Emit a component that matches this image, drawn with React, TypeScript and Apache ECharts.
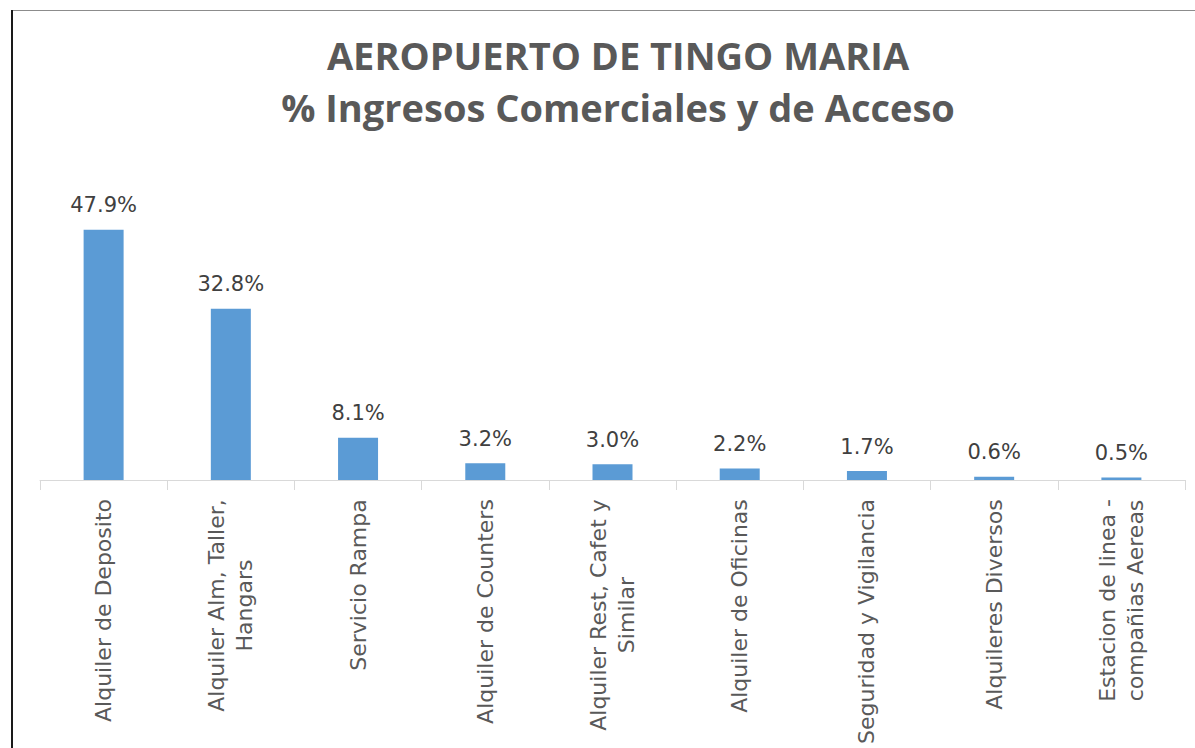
import React, { useEffect, useRef } from "react";
import * as echarts from "echarts";

const titleLines = ["AEROPUERTO DE TINGO MARIA", "% Ingresos Comerciales y de Acceso"];
const categories = [
  "Alquiler de Deposito",
  "Alquiler Alm, Taller,\nHangars",
  "Servicio Rampa",
  "Alquiler de Counters",
  "Alquiler Rest, Cafet y\nSimilar",
  "Alquiler de Oficinas",
  "Seguridad y Vigilancia",
  "Alquileres Diversos",
  "Estacion de linea -\ncompañias Aereas",
];
const values = [47.9, 32.8, 8.1, 3.2, 3.0, 2.2, 1.7, 0.6, 0.5];

const LABEL_FONT = "DejaVu Sans";
const LABEL_SIZE = 22;

function measure(text: string, size: number, family: string): number {
  const c = document.createElement("canvas").getContext("2d");
  if (!c) return text.length * size * 0.55;
  c.font = `${size}px '${family}'`;
  return c.measureText(text).width;
}

export default function App() {
  const ref = useRef<HTMLDivElement>(null);
  useEffect(() => {
    if (!ref.current) return;
    const chart = echarts.init(ref.current, undefined, { renderer: "svg" });
    const rich: Record<string, any> = {};
    categories.forEach((c, i) => {
      const w = Math.max(...c.split("\n").map((l) => measure(l, LABEL_SIZE, LABEL_FONT)));
      rich["r" + i] = {
        width: Math.ceil(w) + 2,
        align: "center",
        fontFamily: LABEL_FONT,
        fontSize: LABEL_SIZE,
        color: "#595959",
        lineHeight: 28,
      };
    });
    const axisY = 481;
    const pxPerUnit = 5.24;
    const yMax = 60;
    chart.setOption({
      animation: false,
      backgroundColor: "#ffffff",
      title: {
        text: titleLines.join("\n"),
        left: 613,
        top: 24,
        textAlign: "center",
        textStyle: {
          fontFamily: "Open Sans",
          fontWeight: "bold",
          fontSize: 38,
          lineHeight: 52,
          color: "#595959",
        },
      },
      graphic: [
        { type: "line", shape: { x1: 11, y1: 10.5, x2: 1195, y2: 10.5 }, style: { stroke: "#8c8c8c", lineWidth: 1 } },
        { type: "line", shape: { x1: 12, y1: 10, x2: 12, y2: 748 }, style: { stroke: "#1a1a1a", lineWidth: 2 } },
      ],
      grid: {
        left: 40,
        right: 10,
        top: axisY - yMax * pxPerUnit,
        bottom: 748 - axisY,
        containLabel: false,
      },
      xAxis: {
        type: "category",
        data: categories,
        axisLine: { show: true, lineStyle: { color: "#d9d9d9", width: 1 } },
        axisTick: { show: true, length: 10, interval: 0, lineStyle: { color: "#d9d9d9" } },
        axisLabel: {
          interval: 0,
          rotate: 90,
          margin: 18,
          formatter: (v: string, idx: number) =>
            v.split("\n").map((l) => `{r${idx}|${l}}`).join("\n"),
          rich,
        },
      },
      yAxis: {
        type: "value",
        min: 0,
        max: yMax,
        show: false,
        splitLine: { show: false },
      },
      series: [
        {
          type: "bar",
          data: values,
          barWidth: 40,
          itemStyle: { color: "#5b9bd5" },
          label: {
            show: true,
            position: "top",
            distance: 14,
            formatter: (p: any) => `${Number(p.value).toFixed(1)}%`,
            fontFamily: LABEL_FONT,
            fontSize: 21,
            color: "#404040",
          },
        },
      ],
    });
    return () => chart.dispose();
  }, []);
  return (
    <div
      ref={ref}
      style={{ position: "fixed", left: 0, top: 0, width: 1195, height: 748, background: "#fff" }}
    />
  );
}
